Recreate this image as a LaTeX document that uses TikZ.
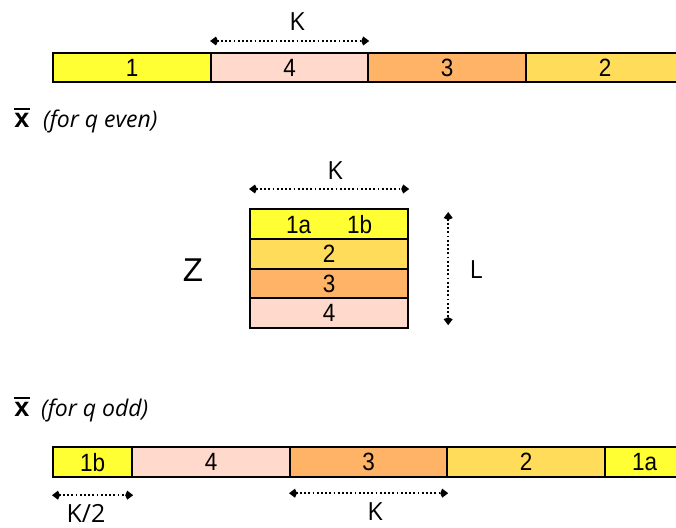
\documentclass[tikz,border=0pt]{standalone}
\usepackage{fontspec}
\setmainfont{Liberation Sans}
\newfontfamily\segfont[FakeStretch=0.9]{Liberation Sans}
\newfontfamily\labfont{Open Sans}
\usetikzlibrary{arrows.meta}
\definecolor{cyel}{HTML}{FFFF33}
\definecolor{cpink}{HTML}{FFD9CC}
\definecolor{corange}{HTML}{FFB366}
\definecolor{cgold}{HTML}{FFDC5A}
\newcommand{\xbarsym}{\vbox{\hrule height 2.4pt\kern3.2pt\hbox{x}}}
\begin{document}
\begin{tikzpicture}[x=1pt,y=-1pt,
  seg/.style={draw=black, line width=2.2pt, minimum height=30pt, inner sep=0pt,
    anchor=north west, font=\segfont\fontsize{25}{25}\selectfont},
  dimline/.style={line width=2.2pt, dash pattern=on 1.8pt off 2.4pt,
    {Kite[length=8pt,width=9pt]}-{Kite[length=8pt,width=9pt]}},
  lab/.style={font=\labfont\fontsize{25}{25}\selectfont, inner sep=0pt},
  captext/.style={font=\labfont\itshape\fontsize{23}{23}\selectfont, inner sep=0pt, anchor=west},
  xbar/.style={font=\bfseries\fontsize{27}{27}\selectfont, inner sep=0pt},
]
\useasboundingbox (0,0) rectangle (676,527);
\clip (0,0) rectangle (676,527);

% top bar (q even)
\node[seg, fill=cyel,    minimum width=158pt, minimum height=29pt] (t1) at (52,52)  {1};
\node[seg, fill=cpink,   minimum width=157pt, minimum height=29pt] (t4) at (210,52) {4};
\node[seg, fill=corange, minimum width=158pt, minimum height=29pt] (t3) at (367,52) {3};
\node[seg, fill=cgold,   minimum width=158pt, minimum height=29pt] (t2) at (525,52) {2};
\draw[dimline] ([yshift=11pt]t4.north west) -- ([yshift=11pt]t4.north east);
\node[lab] (kt) at (297,22) {K};

\node[xbar] (xe) at (22,118) {\xbarsym};
\node[captext] (ce) at (43,121) {(for q even)};

% matrix Z
\node[seg, fill=cyel,    minimum width=158pt, minimum height=30pt] (z1) at (249,208) {1a\hspace{36pt}1b};
\node[seg, fill=cgold,   minimum width=158pt, minimum height=30pt] (z2) at (249,238) {2};
\node[seg, fill=corange, minimum width=158pt, minimum height=29pt] (z3) at (249,268) {3};
\node[seg, fill=cpink,   minimum width=158pt, minimum height=30pt] (z4) at (249,297) {4};
\draw[dimline] ([yshift=19pt]z1.north west) -- ([yshift=19pt]z1.north east);
\node[lab] (kz) at (335,171) {K};
\draw[dimline] ([xshift=39pt,yshift=-4pt]z1.north east) -- ([xshift=39pt,yshift=4pt]z4.south east);
\node[lab] (lz) at (476,270) {L};
\node[font=\fontsize{33}{33}\selectfont, inner sep=0pt] (zl) at (193,270) {Z};

% bottom bar (q odd)
\node[xbar] (xo) at (22,407) {\xbarsym};
\node[captext] (co) at (41,410) {(for q odd)};
\node[seg, fill=cyel,    minimum width=79pt]  (b1b) at (52,446)  {1b};
\node[seg, fill=cpink,   minimum width=158pt] (b4)  at (131,446) {4};
\node[seg, fill=corange, minimum width=157pt] (b3)  at (289,446) {3};
\node[seg, fill=cgold,   minimum width=158pt] (b2)  at (446,446) {2};
\node[seg, fill=cyel,    minimum width=79pt]  (b1a) at (604,446) {1a};
\draw[dimline] ([yshift=-17pt]b1b.south west) -- ([yshift=-17pt]b1b.south east);
\node[lab] (kh) at (86,513) {K/2};
\draw[dimline] ([yshift=-15pt]b3.south west) -- ([yshift=-15pt]b3.south east);
\node[lab] (kb) at (375,512) {K};
\end{tikzpicture}
\end{document}
